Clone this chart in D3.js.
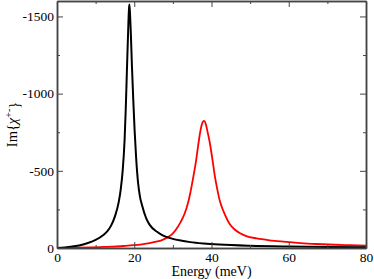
<!DOCTYPE html>
<html><head><meta charset="utf-8">
<script src="https://cdn.jsdelivr.net/npm/d3@7"></script>
<style>
html,body{margin:0;padding:0;background:#fff;}
svg{display:block;}
text{font-family:"Liberation Serif","Times New Roman",serif;}
</style></head>
<body>
<svg id="c" width="374" height="279"></svg>
<script>
// Data: energy (meV) and Im{chi+-}
const blackE = [0,2,4,6,8,10,12,13,14,15,16,16.5,17,17.5,17.8,18.1,18.4,18.6,18.72,18.85,19.1,19.4,19.75,20.1,20.5,21,21.5,22,23.1,24,25.9,27.5,29.3,32,34.5,38,42,50,60,70,80];
const blackV = [0,-4,-10,-18,-32,-52,-84,-108,-145,-205,-300,-380,-500,-700,-900,-1150,-1390,-1530,-1577,-1540,-1400,-1180,-958,-760,-580,-420,-330,-278,-192,-150,-105,-80,-64,-48,-38,-29,-22,-14,-9,-6,-5];
const redE = [0,5,8.6,12,17.3,20,22,24,26,27,28,29,30,31,32,33,34,34.5,35,35.5,36,36.5,37,37.5,38.06,38.5,39,39.6,40.2,40.9,41.5,42,42.6,43.5,44.8,46,47.4,49,51.7,55,58.6,63,67.2,72,76,80];
const redV = [0,-2,-4,-7,-13,-18,-24,-32,-43,-50,-61,-75,-95,-127,-168,-220,-300,-355,-420,-490,-565,-655,-740,-800,-823,-805,-750,-677,-580,-461,-380,-320,-270,-215,-152,-120,-95,-77,-62,-50,-41,-32,-26,-21,-18,-15];
const xMajor = [0,20,40,60,80];
const xMinor = [10,30,50,70];
const yMajor = [0,-500,-1000,-1500];
const yMinor = [-250,-750,-1250];

const L=57, R=366, T=1, B=248;
const svg = d3.select("#c");
const x = d3.scaleLinear().domain([0,80]).range([L,R]);
const y = d3.scaleLinear().domain([0,-1600]).range([B,T]);

const line = d3.line().x(d=>x(d[0])).y(d=>y(d[1])).curve(d3.curveMonotoneX);
const blackPts = blackE.map((e,i)=>[e,blackV[i]]);
const redPts = redE.map((e,i)=>[e,redV[i]]);

const plot = svg.append("g");
plot.append("path").datum(redPts).attr("d",line).attr("fill","none").attr("stroke","#ff0000").attr("stroke-width",1.8);
plot.append("path").datum(blackPts).attr("d",line).attr("fill","none").attr("stroke","#000").attr("stroke-width",2);

const axColor="#444";
function style(g){
  g.selectAll("path.domain").attr("stroke",axColor).attr("stroke-width",1.5);
  g.selectAll(".tick line").attr("stroke",axColor).attr("stroke-width",1);
  g.selectAll("text").attr("fill","#000").style("font-family",'"Liberation Serif","Times New Roman",serif').style("font-size","13.5px");
}
// bottom
svg.append("g").attr("transform",`translate(0,${B})`)
  .call(d3.axisBottom(x).tickValues(xMajor).tickSizeInner(-6).tickSizeOuter(0).tickPadding(4).tickFormat(d=>String(d))).call(style);
svg.append("g").attr("transform",`translate(0,${B})`)
  .call(d3.axisBottom(x).tickValues(xMinor).tickSizeInner(-3).tickSizeOuter(0).tickFormat("")).call(style);
// top
svg.append("g").attr("transform",`translate(0,${T})`)
  .call(d3.axisTop(x).tickValues(xMajor).tickSizeInner(-6).tickSizeOuter(0).tickFormat("")).call(style);
svg.append("g").attr("transform",`translate(0,${T})`)
  .call(d3.axisTop(x).tickValues(xMinor).tickSizeInner(-3).tickSizeOuter(0).tickFormat("")).call(style);
// left
svg.append("g").attr("transform",`translate(${L},0)`)
  .call(d3.axisLeft(y).tickValues(yMajor).tickSizeInner(-6).tickSizeOuter(0).tickPadding(3).tickFormat(d=>String(d))).call(style);
svg.append("g").attr("transform",`translate(${L},0)`)
  .call(d3.axisLeft(y).tickValues(yMinor).tickSizeInner(-3).tickSizeOuter(0).tickFormat("")).call(style);
// right
svg.append("g").attr("transform",`translate(${R},0)`)
  .call(d3.axisRight(y).tickValues(yMajor).tickSizeInner(-6).tickSizeOuter(0).tickFormat("")).call(style);
svg.append("g").attr("transform",`translate(${R},0)`)
  .call(d3.axisRight(y).tickValues(yMinor).tickSizeInner(-3).tickSizeOuter(0).tickFormat("")).call(style);

// axis titles
svg.append("text").attr("x",(L+R)/2).attr("y",275.5).attr("text-anchor","middle")
  .style("font-size","14px").text("Energy (meV)");
const yl = svg.append("text").attr("transform",`translate(17,${(T+B)/2}) rotate(-90)`)
  .attr("text-anchor","middle").style("font-size","14.5px");
yl.append("tspan").text("Im{");
yl.append("tspan").style("font-style","italic").text("χ");
yl.append("tspan").attr("dy","-0.5em").style("font-size","10px").text("+-");
yl.append("tspan").attr("dy","0.5em").text("}");
</script>
</body></html>
